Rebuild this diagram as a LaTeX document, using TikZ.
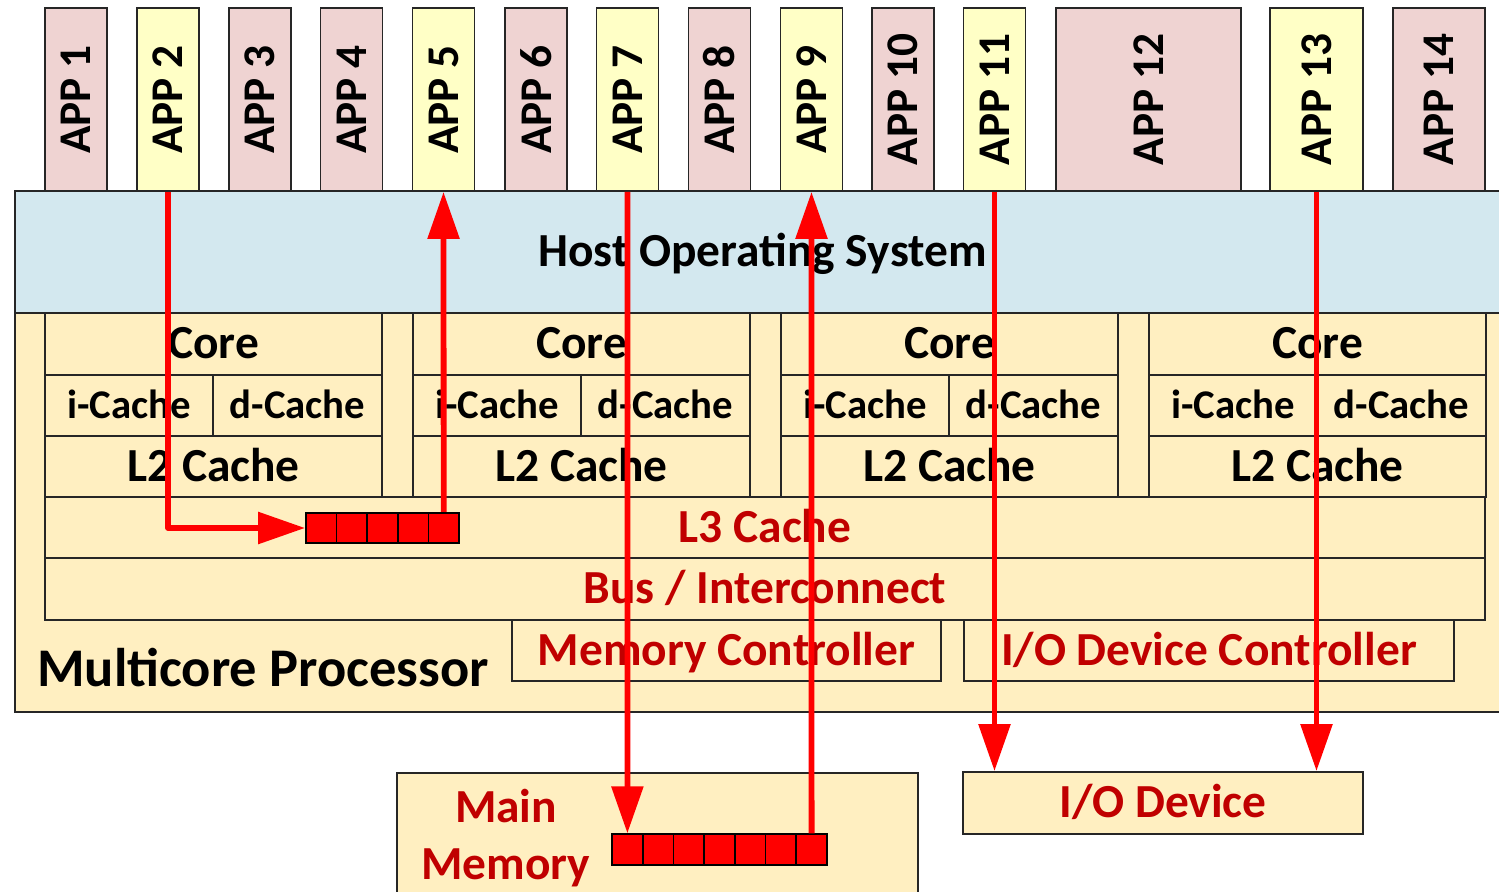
\documentclass[tikz,border=0pt]{standalone}
\usepackage{fontspec}
\setmainfont{Carlito}
\usetikzlibrary{arrows.meta}
\definecolor{apppink}{HTML}{EFD3D2}
\definecolor{appyellow}{HTML}{FFFFC6}
\definecolor{osblue}{HTML}{D3E8EF}
\definecolor{cpuyellow}{HTML}{FFEFC1}
\definecolor{darkred}{HTML}{C00000}
\begin{document}
\begin{tikzpicture}[x=0.02cm,y=-0.02cm,
  box/.style={draw=black!85,line width=1.1pt,inner sep=0pt,fill=cpuyellow,text height=17pt,text depth=0pt,font=\bfseries\fontsize{27}{32}\selectfont},
  app/.style={box,minimum width=1.24cm,minimum height=3.66cm,text height=,text depth=,font=\bfseries\fontsize{25.8}{30}\selectfont},
  corebox/.style={box,minimum width=6.74cm,minimum height=1.23cm},
  cache/.style={box,minimum width=3.37cm,minimum height=1.22cm,text height=14.8pt,font=\bfseries\fontsize{23.2}{28}\selectfont},
  unit/.style={box,text=darkred,minimum height=1.22cm},
  cell/.style={draw=black,line width=1pt,fill=red,inner sep=0pt,minimum size=0.613cm},
  flow/.style={draw=red,line width=3.3pt,line join=round,-{Triangle[width=17.6pt,length=26.7pt]}}]
\useasboundingbox (0,0) rectangle (1499,892);
% Applications
\node[app,fill=apppink] (app1) at (76,99.5) {\rotatebox{90}{APP 1}};
\node[app,fill=appyellow] (app2) at (168,99.5) {\rotatebox{90}{APP 2}};
\node[app,fill=apppink] (app3) at (260,99.5) {\rotatebox{90}{APP 3}};
\node[app,fill=apppink] (app4) at (351.5,99.5) {\rotatebox{90}{APP 4}};
\node[app,fill=appyellow] (app5) at (443.5,99.5) {\rotatebox{90}{APP 5}};
\node[app,fill=apppink] (app6) at (536,99.5) {\rotatebox{90}{APP 6}};
\node[app,fill=appyellow] (app7) at (627.5,99.5) {\rotatebox{90}{APP 7}};
\node[app,fill=apppink] (app8) at (719.5,99.5) {\rotatebox{90}{APP 8}};
\node[app,fill=appyellow] (app9) at (811.5,99.5) {\rotatebox{90}{APP 9}};
\node[app,fill=apppink] (app10) at (903,99.5) {\rotatebox{90}{APP 10}};
\node[app,fill=appyellow] (app11) at (994.5,99.5) {\rotatebox{90}{APP 11}};
\node[app,fill=apppink,minimum width=3.7cm] (app12) at (1148.5,99.5) {\rotatebox{90}{APP 12}};
\node[app,fill=appyellow,minimum width=1.86cm] (app13) at (1316.5,99.5) {\rotatebox{90}{APP 13}};
\node[app,fill=apppink,minimum width=1.84cm] (app14) at (1439,99.5) {\rotatebox{90}{APP 14}};
% Host OS and processor
\node[box,fill=osblue,minimum width=29.9cm,minimum height=2.44cm] (os) at (762.5,252) {Host Operating System};
\node[box,minimum width=29.9cm,minimum height=7.98cm] (cpu) at (762.5,512.5) {};
\node[font=\bfseries\fontsize{31}{36}\selectfont,inner sep=0pt,text height=20pt,text depth=0pt] (cpulabel) at (263,669) {Multicore Processor};
% Cores
\node[corebox] (core1) at (213.5,344) {Core};
\node[cache] (ic1) at (129,405.5) {i-Cache};
\node[cache] (dc1) at (297.5,405.5) {d-Cache};
\node[corebox] (l2c1) at (213.5,466.5) {L2 Cache};
\node[corebox] (core2) at (581.5,344) {Core};
\node[cache] (ic2) at (497,405.5) {i-Cache};
\node[cache] (dc2) at (665.5,405.5) {d-Cache};
\node[corebox] (l2c2) at (581.5,466.5) {L2 Cache};
\node[corebox] (core3) at (949.5,344) {Core};
\node[cache] (ic3) at (865,405.5) {i-Cache};
\node[cache] (dc3) at (1033.5,405.5) {d-Cache};
\node[corebox] (l2c3) at (949.5,466.5) {L2 Cache};
\node[corebox] (core4) at (1317.5,344) {Core};
\node[cache] (ic4) at (1233,405.5) {i-Cache};
\node[cache] (dc4) at (1401.5,405.5) {d-Cache};
\node[corebox] (l2c4) at (1317.5,466.5) {L2 Cache};
% Shared parts
\node[unit,minimum width=28.8cm] (l3) at (765,527.5) {L3 Cache};
\node[unit,minimum width=28.8cm,minimum height=1.24cm] (bus) at (765,589) {Bus / Interconnect};
\node[unit,minimum width=8.58cm] (memctl) at (726.5,650.5) {Memory Controller};
\node[unit,minimum width=9.8cm] (ioctl) at (1209,650.5) {I/O Device Controller};
% Memory and device
\node[box,minimum width=10.42cm,minimum height=2.74cm] (mem) at (657.5,841.5) {};
\node[text=darkred,font=\bfseries\fontsize{27}{32}\selectfont,align=center,inner sep=0pt] (memlabel) at (506,838) {Main\\Memory};
\node[unit,minimum width=8cm,minimum height=1.24cm] (iodev) at (1163,803) {I/O Device};
% Queues
\node[cell] (lq1) at (321.3,528) {};
\node[cell] (lq2) at (351.9,528) {};
\node[cell] (lq3) at (382.5,528) {};
\node[cell] (lq4) at (413.1,528) {};
\node[cell] (lq5) at (443.7,528) {};
\node[cell] (mq1) at (627.4,849.5) {};
\node[cell] (mq2) at (658.1,849.5) {};
\node[cell] (mq3) at (688.8,849.5) {};
\node[cell] (mq4) at (719.5,849.5) {};
\node[cell] (mq5) at (750.2,849.5) {};
\node[cell] (mq6) at (780.9,849.5) {};
\node[cell] (mq7) at (811.6,849.5) {};
% Data paths
\draw[flow] (app2.south) |- (lq1.west);
\draw[flow] (lq5.north) -- (app5.south);
\draw[flow] (app7.south) -- (mq1.north);
\draw[flow] (mq7.north) -- (app9.south);
\draw[flow] (app11.south) -- (app11.south |- iodev.north);
\draw[flow] (app13.south) -- (app13.south |- iodev.north);
\end{tikzpicture}
\end{document}
